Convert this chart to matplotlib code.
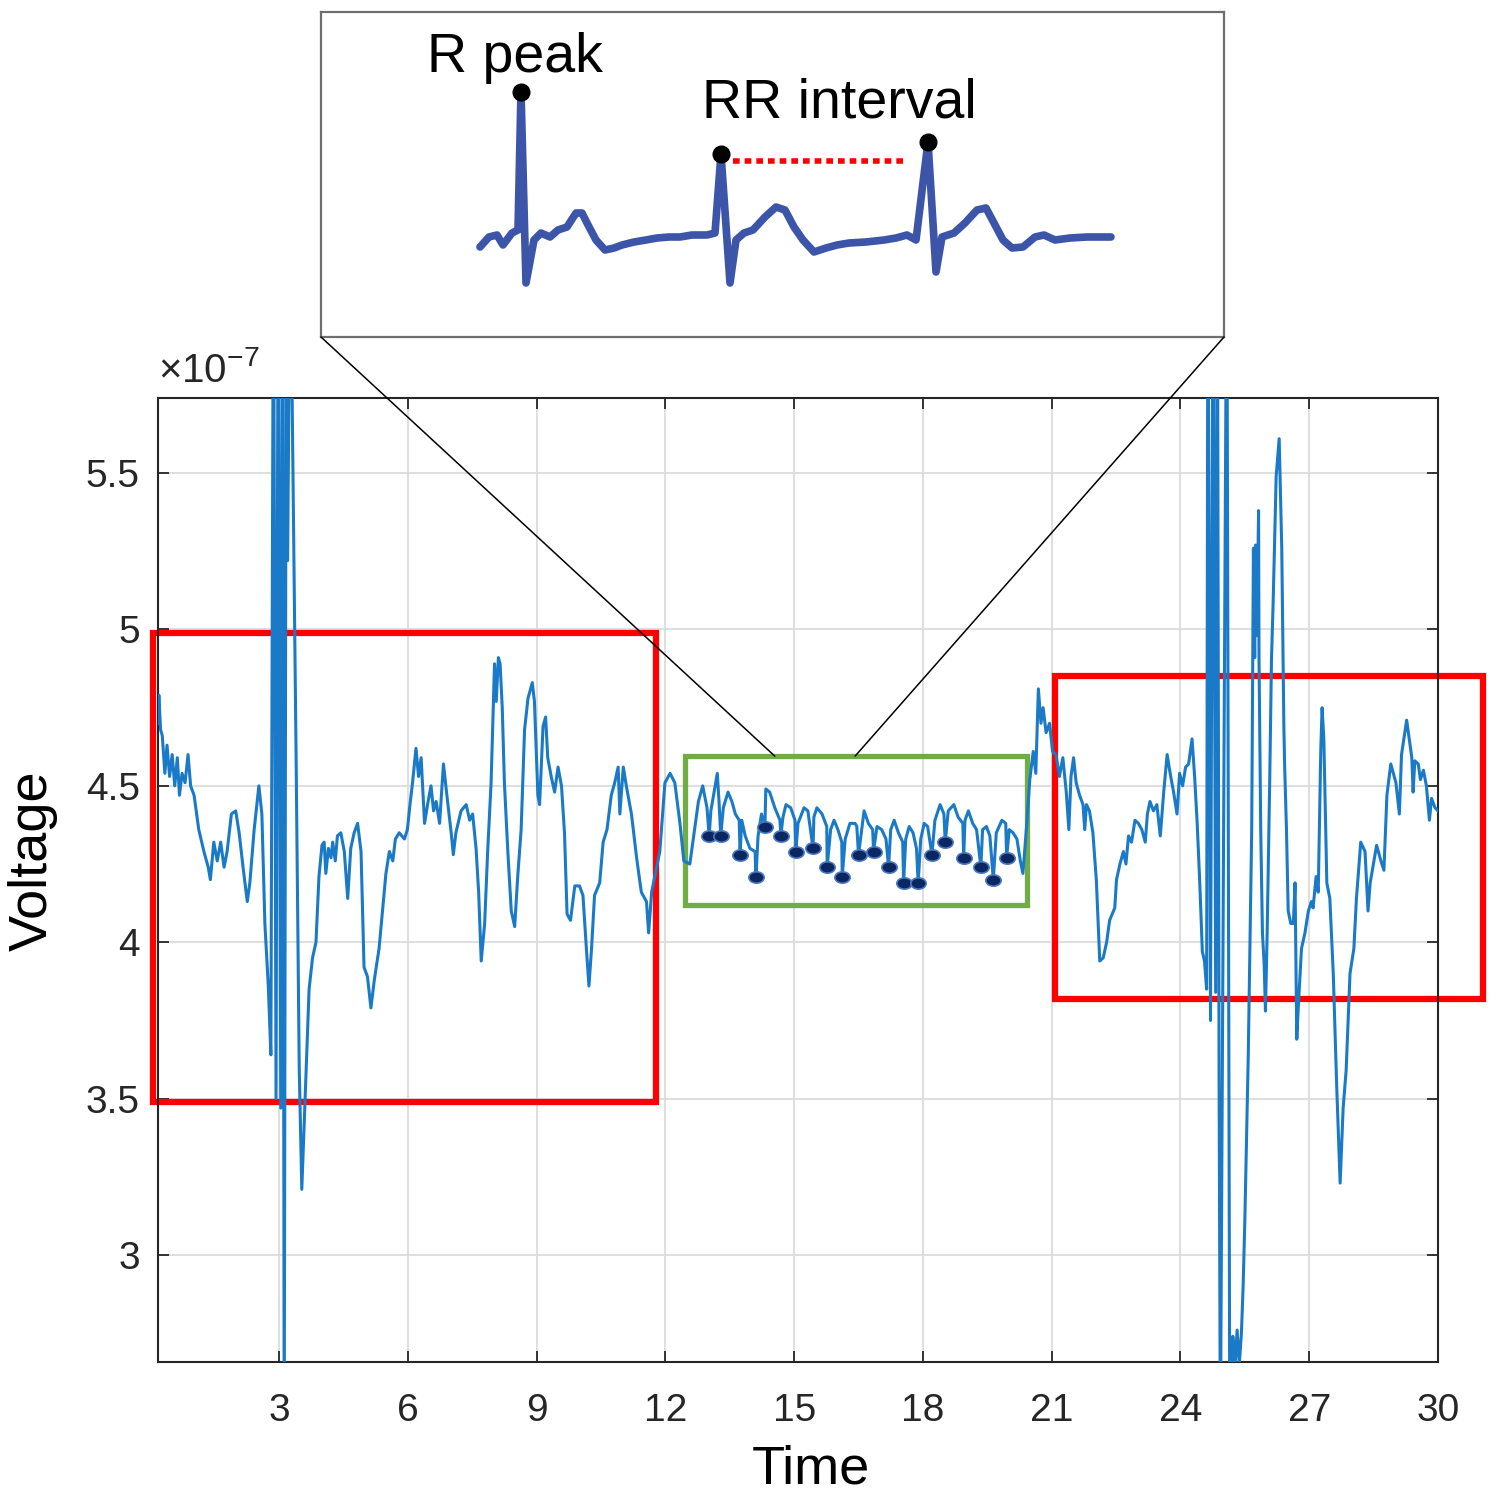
import matplotlib
matplotlib.use('Agg')
import matplotlib.pyplot as plt
from matplotlib.patches import Rectangle, ConnectionPatch
from matplotlib.path import Path
from matplotlib.transforms import Affine2D
from matplotlib.ticker import FuncFormatter

plt.rcParams['font.family'] = ['Liberation Sans', 'DejaVu Sans']
plt.rcParams['mathtext.fontset'] = 'custom'
plt.rcParams['mathtext.rm'] = 'Liberation Sans'
plt.rcParams['mathtext.it'] = 'Liberation Sans:italic'

# recorded signal, voltage in units of 1e-7
t_sig = [0.18, 0.20, 0.24, 0.28, 0.34, 0.39, 0.45, 0.51, 0.57, 0.63, 0.68, 0.74, 0.81, 0.88, 0.94,
         1.02, 1.13, 1.25, 1.35, 1.40, 1.48, 1.56, 1.64, 1.72, 1.79, 1.89, 1.99, 2.07, 2.17, 2.26,
         2.32, 2.42, 2.53, 2.60, 2.67, 2.75, 2.81,
         2.87, 2.93, 2.98, 3.04, 3.08, 3.12, 3.17, 3.20, 3.26, 3.40, 3.47, 3.53, 3.58, 3.62,
         3.70, 3.78, 3.86, 3.93, 4.00, 4.05, 4.09, 4.15, 4.21, 4.25, 4.31, 4.36, 4.44, 4.52,
         4.60, 4.67, 4.75, 4.83, 4.91, 4.98, 5.06, 5.14, 5.22, 5.33, 5.49, 5.57, 5.65, 5.71,
         5.80, 5.92, 5.99, 6.05, 6.11, 6.19, 6.25, 6.31, 6.39, 6.46, 6.54, 6.60, 6.66, 6.74,
         6.83, 6.91, 7.01, 7.06, 7.12, 7.24, 7.36, 7.44, 7.51, 7.59, 7.65, 7.71, 7.79, 7.86,
         7.94, 8.02, 8.06, 8.11, 8.15, 8.20, 8.25, 8.33, 8.41, 8.49, 8.56, 8.64, 8.72, 8.80,
         8.90, 8.95, 9.03, 9.07, 9.15, 9.21, 9.26, 9.34, 9.42, 9.50, 9.58, 9.65, 9.71, 9.79,
         9.89, 10.00, 10.08, 10.16, 10.22, 10.28, 10.35, 10.47, 10.55, 10.64, 10.74, 10.82,
         10.90, 10.94, 11.02, 11.09, 11.21, 11.33, 11.44, 11.56, 11.61, 11.68, 11.87, 11.99,
         12.11, 12.22, 12.34, 12.43, 12.57, 12.65, 12.77, 12.87, 12.97, 13.02, 13.06, 13.16,
         13.21, 13.25, 13.29, 13.35, 13.46, 13.55, 13.63, 13.72, 13.74, 13.78, 13.86, 13.97,
         14.09, 14.11, 14.16, 14.24, 14.32, 14.34, 14.43, 14.55, 14.67, 14.69, 14.74, 14.81,
         14.92, 15.02, 15.04, 15.09, 15.23, 15.32, 15.44, 15.46, 15.53, 15.65, 15.76, 15.77,
         15.85, 15.93, 16.02, 16.11, 16.12, 16.19, 16.30, 16.42, 16.46, 16.50, 16.63, 16.73,
         16.83, 16.85, 16.93, 17.04, 17.14, 17.20, 17.25, 17.33, 17.43, 17.53, 17.55, 17.60,
         17.68, 17.77, 17.85, 17.89, 17.95, 18.03, 18.11, 18.21, 18.28, 18.40, 18.49, 18.52,
         18.59, 18.72, 18.82, 18.93, 18.95, 18.98, 19.06, 19.16, 19.25, 19.35, 19.39, 19.48,
         19.56, 19.64, 19.71, 19.84, 19.93, 19.95, 20.01, 20.10, 20.19, 20.27, 20.33, 20.42,
         20.49, 20.57, 20.63, 20.69, 20.75, 20.80, 20.87, 20.95, 21.02, 21.10, 21.18, 21.26,
         21.34, 21.40, 21.45, 21.51, 21.57, 21.65, 21.73, 21.77, 21.81, 21.88, 21.96, 22.04,
         22.12, 22.20, 22.28, 22.35, 22.47, 22.51, 22.59, 22.67, 22.73, 22.79, 22.86, 22.94,
         23.02, 23.10, 23.18, 23.23, 23.29, 23.37, 23.45, 23.53, 23.61, 23.69, 23.76, 23.84,
         23.92, 23.98, 24.05, 24.12, 24.19, 24.27, 24.33, 24.39, 24.45, 24.51, 24.56, 24.61,
         24.64, 24.70, 24.76, 24.82, 24.86, 24.90, 24.93, 25.08, 25.15, 25.22, 25.27, 25.32,
         25.37, 25.42, 25.46, 25.50, 25.58, 25.66, 25.70, 25.73, 25.75, 25.78, 25.82, 25.83,
         25.87, 25.91, 25.95, 25.98, 26.02, 26.08, 26.12, 26.16, 26.23, 26.30, 26.36, 26.41,
         26.43, 26.47, 26.51, 26.57, 26.63, 26.67, 26.71, 26.74, 26.82, 26.90, 26.98, 27.05,
         27.09, 27.16, 27.21, 27.27, 27.30, 27.34, 27.41, 27.48, 27.56, 27.64, 27.72, 27.79,
         27.86, 27.95, 28.04, 28.10, 28.20, 28.30, 28.37, 28.42, 28.57, 28.67, 28.74, 28.81,
         28.90, 29.02, 29.10, 29.15, 29.27, 29.39, 29.42, 29.46, 29.54, 29.59, 29.66, 29.73,
         29.80, 29.85, 29.93, 30.00]
v_sig = [4.70, 4.79, 4.68, 4.66, 4.54, 4.63, 4.53, 4.60, 4.50, 4.59, 4.47, 4.54, 4.51, 4.60, 4.50,
         4.47, 4.36, 4.29, 4.24, 4.20, 4.32, 4.26, 4.32, 4.24, 4.29, 4.41, 4.42, 4.35, 4.23, 4.13,
         4.19, 4.36, 4.50, 4.41, 4.06, 3.86, 3.64,
         6.30, 3.50, 6.30, 3.47, 6.30, 2.40, 6.30, 5.22, 6.30, 4.56, 3.60, 3.21, 3.40, 3.55,
         3.85, 3.95, 4.00, 4.21, 4.31, 4.32, 4.22, 4.30, 4.27, 4.32, 4.26, 4.34, 4.35, 4.29,
         4.14, 4.30, 4.35, 4.38, 4.29, 3.92, 3.89, 3.79, 3.88, 3.98, 4.22, 4.29, 4.26, 4.33,
         4.35, 4.33, 4.36, 4.44, 4.51, 4.62, 4.53, 4.59, 4.38, 4.44, 4.50, 4.42, 4.45, 4.38,
         4.57, 4.47, 4.35, 4.28, 4.35, 4.42, 4.44, 4.39, 4.41, 4.30, 4.16, 3.94, 4.06, 4.29,
         4.51, 4.89, 4.77, 4.91, 4.89, 4.75, 4.51, 4.29, 4.10, 4.05, 4.21, 4.36, 4.68, 4.78,
         4.83, 4.77, 4.47, 4.44, 4.69, 4.72, 4.59, 4.53, 4.48, 4.56, 4.50, 4.35, 4.09, 4.07,
         4.18, 4.18, 4.15, 3.98, 3.86, 3.98, 4.15, 4.19, 4.32, 4.36, 4.47, 4.51,
         4.56, 4.41, 4.56, 4.50, 4.41, 4.27, 4.16, 4.13, 4.03, 4.16, 4.29, 4.51,
         4.54, 4.51, 4.38, 4.26, 4.25, 4.33, 4.45, 4.50, 4.43, 4.34, 4.42, 4.50,
         4.54, 4.45, 4.34, 4.43, 4.48, 4.45, 4.41, 4.39, 4.28, 4.39, 4.34, 4.30,
         4.29, 4.21, 4.34, 4.41, 4.37, 4.49, 4.48, 4.43, 4.39, 4.34, 4.40, 4.44,
         4.43, 4.39, 4.29, 4.38, 4.43, 4.42, 4.30, 4.40, 4.43, 4.41, 4.37, 4.24,
         4.36, 4.39, 4.36, 4.32, 4.21, 4.33, 4.38, 4.38, 4.37, 4.28, 4.42, 4.38,
         4.36, 4.29, 4.37, 4.36, 4.33, 4.24, 4.36, 4.39, 4.35, 4.32, 4.19, 4.33,
         4.37, 4.35, 4.30, 4.19, 4.33, 4.38, 4.37, 4.28, 4.39, 4.44, 4.41, 4.32,
         4.42, 4.44, 4.40, 4.38, 4.27, 4.39, 4.42, 4.38, 4.36, 4.24, 4.36, 4.37,
         4.34, 4.20, 4.35, 4.39, 4.38, 4.27, 4.36, 4.35, 4.33, 4.26, 4.22, 4.38,
         4.52, 4.61, 4.54, 4.81, 4.70, 4.75, 4.67, 4.70, 4.61, 4.60, 4.53, 4.59,
         4.48, 4.36, 4.53, 4.59, 4.51, 4.47, 4.44, 4.36, 4.44, 4.42, 4.35, 4.20,
         3.94, 3.95, 4.00, 4.07, 4.11, 4.20, 4.25, 4.29, 4.25, 4.34, 4.32, 4.39,
         4.38, 4.36, 4.32, 4.41, 4.45, 4.42, 4.44, 4.34, 4.48, 4.60, 4.54, 4.48,
         4.41, 4.54, 4.50, 4.56, 4.57, 4.65, 4.53, 4.38, 4.19, 3.97, 3.94, 3.85,
         6.30, 3.75, 6.30, 3.84, 6.30, 3.57, 2.40, 6.30, 2.40, 2.74, 2.64, 2.76,
         2.65, 2.75, 2.90, 3.11, 3.64, 4.36, 5.26, 4.91, 5.27, 4.98, 5.38, 4.91,
         4.36, 4.03, 3.93, 3.78, 4.03, 4.52, 4.90, 5.09, 5.49, 5.61, 5.26, 4.68,
         4.55, 4.36, 4.10, 4.06, 4.06, 4.19, 3.69, 3.78, 3.98, 4.03, 4.10, 4.13,
         4.11, 4.21, 4.16, 4.62, 4.75, 4.65, 4.19, 4.14, 3.90, 3.54, 3.23, 3.47,
         3.59, 3.90, 3.98, 4.14, 4.32, 4.29, 4.10, 4.19, 4.31, 4.26, 4.23, 4.47,
         4.57, 4.51, 4.41, 4.60, 4.71, 4.59, 4.48, 4.58, 4.57, 4.52, 4.55, 4.50,
         4.39, 4.46, 4.43, 4.42]

# detected R peaks inside the green window
t_rpk = [13.02, 13.29, 13.74, 14.11, 14.32, 14.69, 15.04, 15.44, 15.77, 16.12, 16.50,
         16.85, 17.20, 17.55, 17.89, 18.21, 18.52, 18.95, 19.35, 19.64, 19.95]
v_rpk = [4.34, 4.34, 4.28, 4.21, 4.37, 4.34, 4.29, 4.30, 4.24, 4.21, 4.28,
         4.29, 4.24, 4.19, 4.19, 4.28, 4.32, 4.27, 4.24, 4.20, 4.27]

# highlighted windows: (t0, v0, t1, v1)
red_win_1 = (0.07, 3.49, 11.78, 4.99)
red_win_2 = (21.08, 3.82, 31.05, 4.85)
green_win = (12.46, 4.12, 20.43, 4.595)
zoom_ends = [14.55, 16.42]

# schematic ECG for the inset
ecg_t = [0, 9, 17, 23, 32, 38, 41, 46, 54, 61, 70, 78, 87, 96, 102, 107, 116, 125, 134, 142,
         154, 166, 177, 189, 200, 212, 227, 235, 241, 250, 256, 264, 273, 285, 296, 305, 314,
         323, 334, 346, 357, 369, 386, 404, 416, 427, 436, 448, 456, 462, 474, 485, 497, 506,
         514, 523, 532, 543, 555, 564, 575, 590, 607, 631]
ecg_v = [-9, 1, 3, -7, 5, 8, 146, -45, -2, 5, 1, 8, 11, 25, 25, 15, -2, -12, -10, -7,
         -4, -2, 0, 1, 1, 3, 3, 5, 84, -45, -2, 5, 8, 21, 31, 28, 11,
         -2, -14, -10, -7, -5, -4, -2, 0, 3, -2, 96, -34, 1, 5, 15, 28, 30,
         15, -2, -10, -9, 1, 3, -2, 0, 1, 1]
ecg_pk_t = [41, 241, 448]
ecg_pk_v = [146, 84, 96]
rr_t = [253, 428]
rr_v = 77

fig = plt.figure(figsize=(14.96, 15), dpi=100)
ax = fig.add_axes([158/1496, 1-1362/1500, 1280/1496, 964/1500])

ax.plot(t_sig, v_sig, color='#1a7ac7', lw=2.2, zorder=3)
ell = Path.unit_circle().transformed(Affine2D().scale(1.35, 1.0))
ax.plot(t_rpk, v_rpk, ls='none', marker=ell, ms=11, mfc='#0b2660', mec='#4a78c0', mew=1.2, zorder=4)

for win, col, lw in [(red_win_1, '#ff0000', 4.5), (red_win_2, '#ff0000', 4.5), (green_win, '#70ad47', 3.8)]:
    ax.add_patch(Rectangle((win[0], win[1]), win[2]-win[0], win[3]-win[1], fill=False,
                           ec=col, lw=lw, clip_on=False, zorder=2))

ax.set_xlim(0.18, 30)
ax.set_ylim(2.658, 5.74)
ax.set_xticks(range(3, 31, 3))
ax.set_yticks([3, 3.5, 4, 4.5, 5, 5.5])
ax.yaxis.set_major_formatter(FuncFormatter(lambda v, p: '%g' % v))
ax.grid(True, color='#dcdcdc', lw=1.3)
ax.set_axisbelow(True)
ax.tick_params(direction='in', length=8, width=1.3, top=True, right=True,
               labelsize=28, colors='#262626')
ax.tick_params(axis='x', pad=22)
ax.tick_params(axis='y', pad=13)
for s in ax.spines.values():
    s.set_color('#262626')
    s.set_linewidth(1.5)

ax.set_xlabel('Time', fontsize=39, color='black')
ax.xaxis.set_label_coords(0.51, -0.086)
ax.set_ylabel('Voltage', fontsize=39, color='black')
ax.yaxis.set_label_coords(-0.078, 0.52)
ax.text(0.0, 1.008, r'$\times$10$^{-7}$', transform=ax.transAxes, ha='left', va='bottom',
        fontsize=29, color='#262626')

# inset with the schematic ECG
ins = fig.add_axes([321/1496, 1-337/1500, 903/1496, 325/1500])
ins.plot(ecg_t, ecg_v, color='#3d55a8', lw=5.5, solid_joinstyle='round', solid_capstyle='round')
ins.plot(ecg_pk_t, ecg_pk_v, 'o', color='black', ms=12)
ins.plot(rr_t, [rr_v, rr_v], color='#ff0000', lw=4, ls=(0, (1.2, 0.9)))
ins.text(35, 166, 'R peak', ha='center', va='baseline', fontsize=40)
ins.text(222, 120, 'RR interval', ha='left', va='baseline', fontsize=40)
ins.set_xlim(-159, 744)
ins.set_ylim(-99, 226)
ins.set_xticks([])
ins.set_yticks([])
for s in ins.spines.values():
    s.set_color('#6e6e6e')
    s.set_linewidth(1.6)

for a, tz in zip([(0, 0), (1, 0)], zoom_ends):
    con = ConnectionPatch(xyA=a, coordsA=ins.transAxes, xyB=(tz, green_win[3]),
                          coordsB=ax.transData, color='black', lw=1.1)
    fig.add_artist(con)

fig.savefig('out.png', dpi=100)
